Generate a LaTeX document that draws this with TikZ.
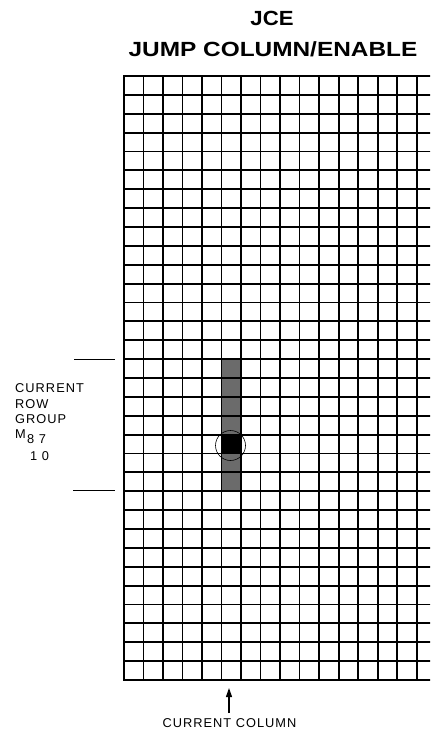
\documentclass[tikz,border=0pt]{standalone}
\usepackage{fontspec}
\setmainfont{Liberation Sans}
\newfontfamily\lblfont[LetterSpace=8]{Liberation Sans}
\usetikzlibrary{arrows.meta}
\tikzset{
  gridline/.style={line width=1.8bp, line cap=rect},
  tickline/.style={line width=1bp},
  lbl/.style={inner sep=0pt, anchor=base west, font=\lblfont\fontsize{12.8bp}{15bp}\selectfont},
  titletext/.style={inner sep=0pt, anchor=base, font=\fontsize{20.5bp}{24bp}\selectfont\bfseries},
  stipple/.style={fill=black!58},
  hole/.style={fill=black}
}
\begin{document}
\begin{tikzpicture}[x=1bp,y=-1bp]
\useasboundingbox (0,0) rectangle (430,737);
\fill[white] (0,0) rectangle (430,737);
% title
\node[titletext] (jce) at (272,26) {\scalebox{1.08}[1]{JCE}};
\node[titletext] (jump) at (273,57) {\scalebox{1.19}[1]{JUMP COLUMN/ENABLE}};
% shaded cells of the current column
\def\rp{18.875}
\def\cp{19.51}
\fill[stipple] (124+5*\cp,76+15*\rp) rectangle (124+6*\cp,76+22*\rp);
\fill[hole] (124+5*\cp,76+19*\rp) rectangle (124+6*\cp,76+20*\rp);
% grid
\begin{scope}
\clip (0,0) rectangle (430,737);
\foreach \i in {0,...,32}
  \draw[gridline] (124,76+\i*\rp) -- (432,76+\i*\rp);
\foreach \j in {0,...,15}
  \draw[gridline] (124+\j*\cp,76) -- (124+\j*\cp,680);
\end{scope}
% circle around current cell
\draw[line width=0.6bp] (230.5,445.5) circle (15bp);
% row group ticks
\coordinate (tA1) at (74,359);
\coordinate (tA2) at (115,359);
\coordinate (tB1) at (73,490);
\coordinate (tB2) at (115,490);
\draw[tickline] (tA1) -- (tA2);
\draw[tickline] (tB1) -- (tB2);
% left labels
\node[lbl] (l1) at (15,392.3) {CURRENT};
\node[lbl] (l2) at (15,408.3) {ROW};
\node[lbl] (l3) at (15,423.5) {GROUP};
\node[lbl] (l4) at (15,438.5) {M};
\node[lbl] (l5) at (27,443.5) {8 7};
\node[lbl] (l6) at (30,460) {1 0};
% current column
\node[lbl, anchor=base] (cc) at (229.5,727.3) {CURRENT COLUMN};
\coordinate (arT) at (229,688);
\coordinate (arB) at (229,713);
\draw[line width=1.1bp, -{Triangle[length=9bp,width=6bp]}] (arB) -- (arT);
\end{tikzpicture}
\end{document}
